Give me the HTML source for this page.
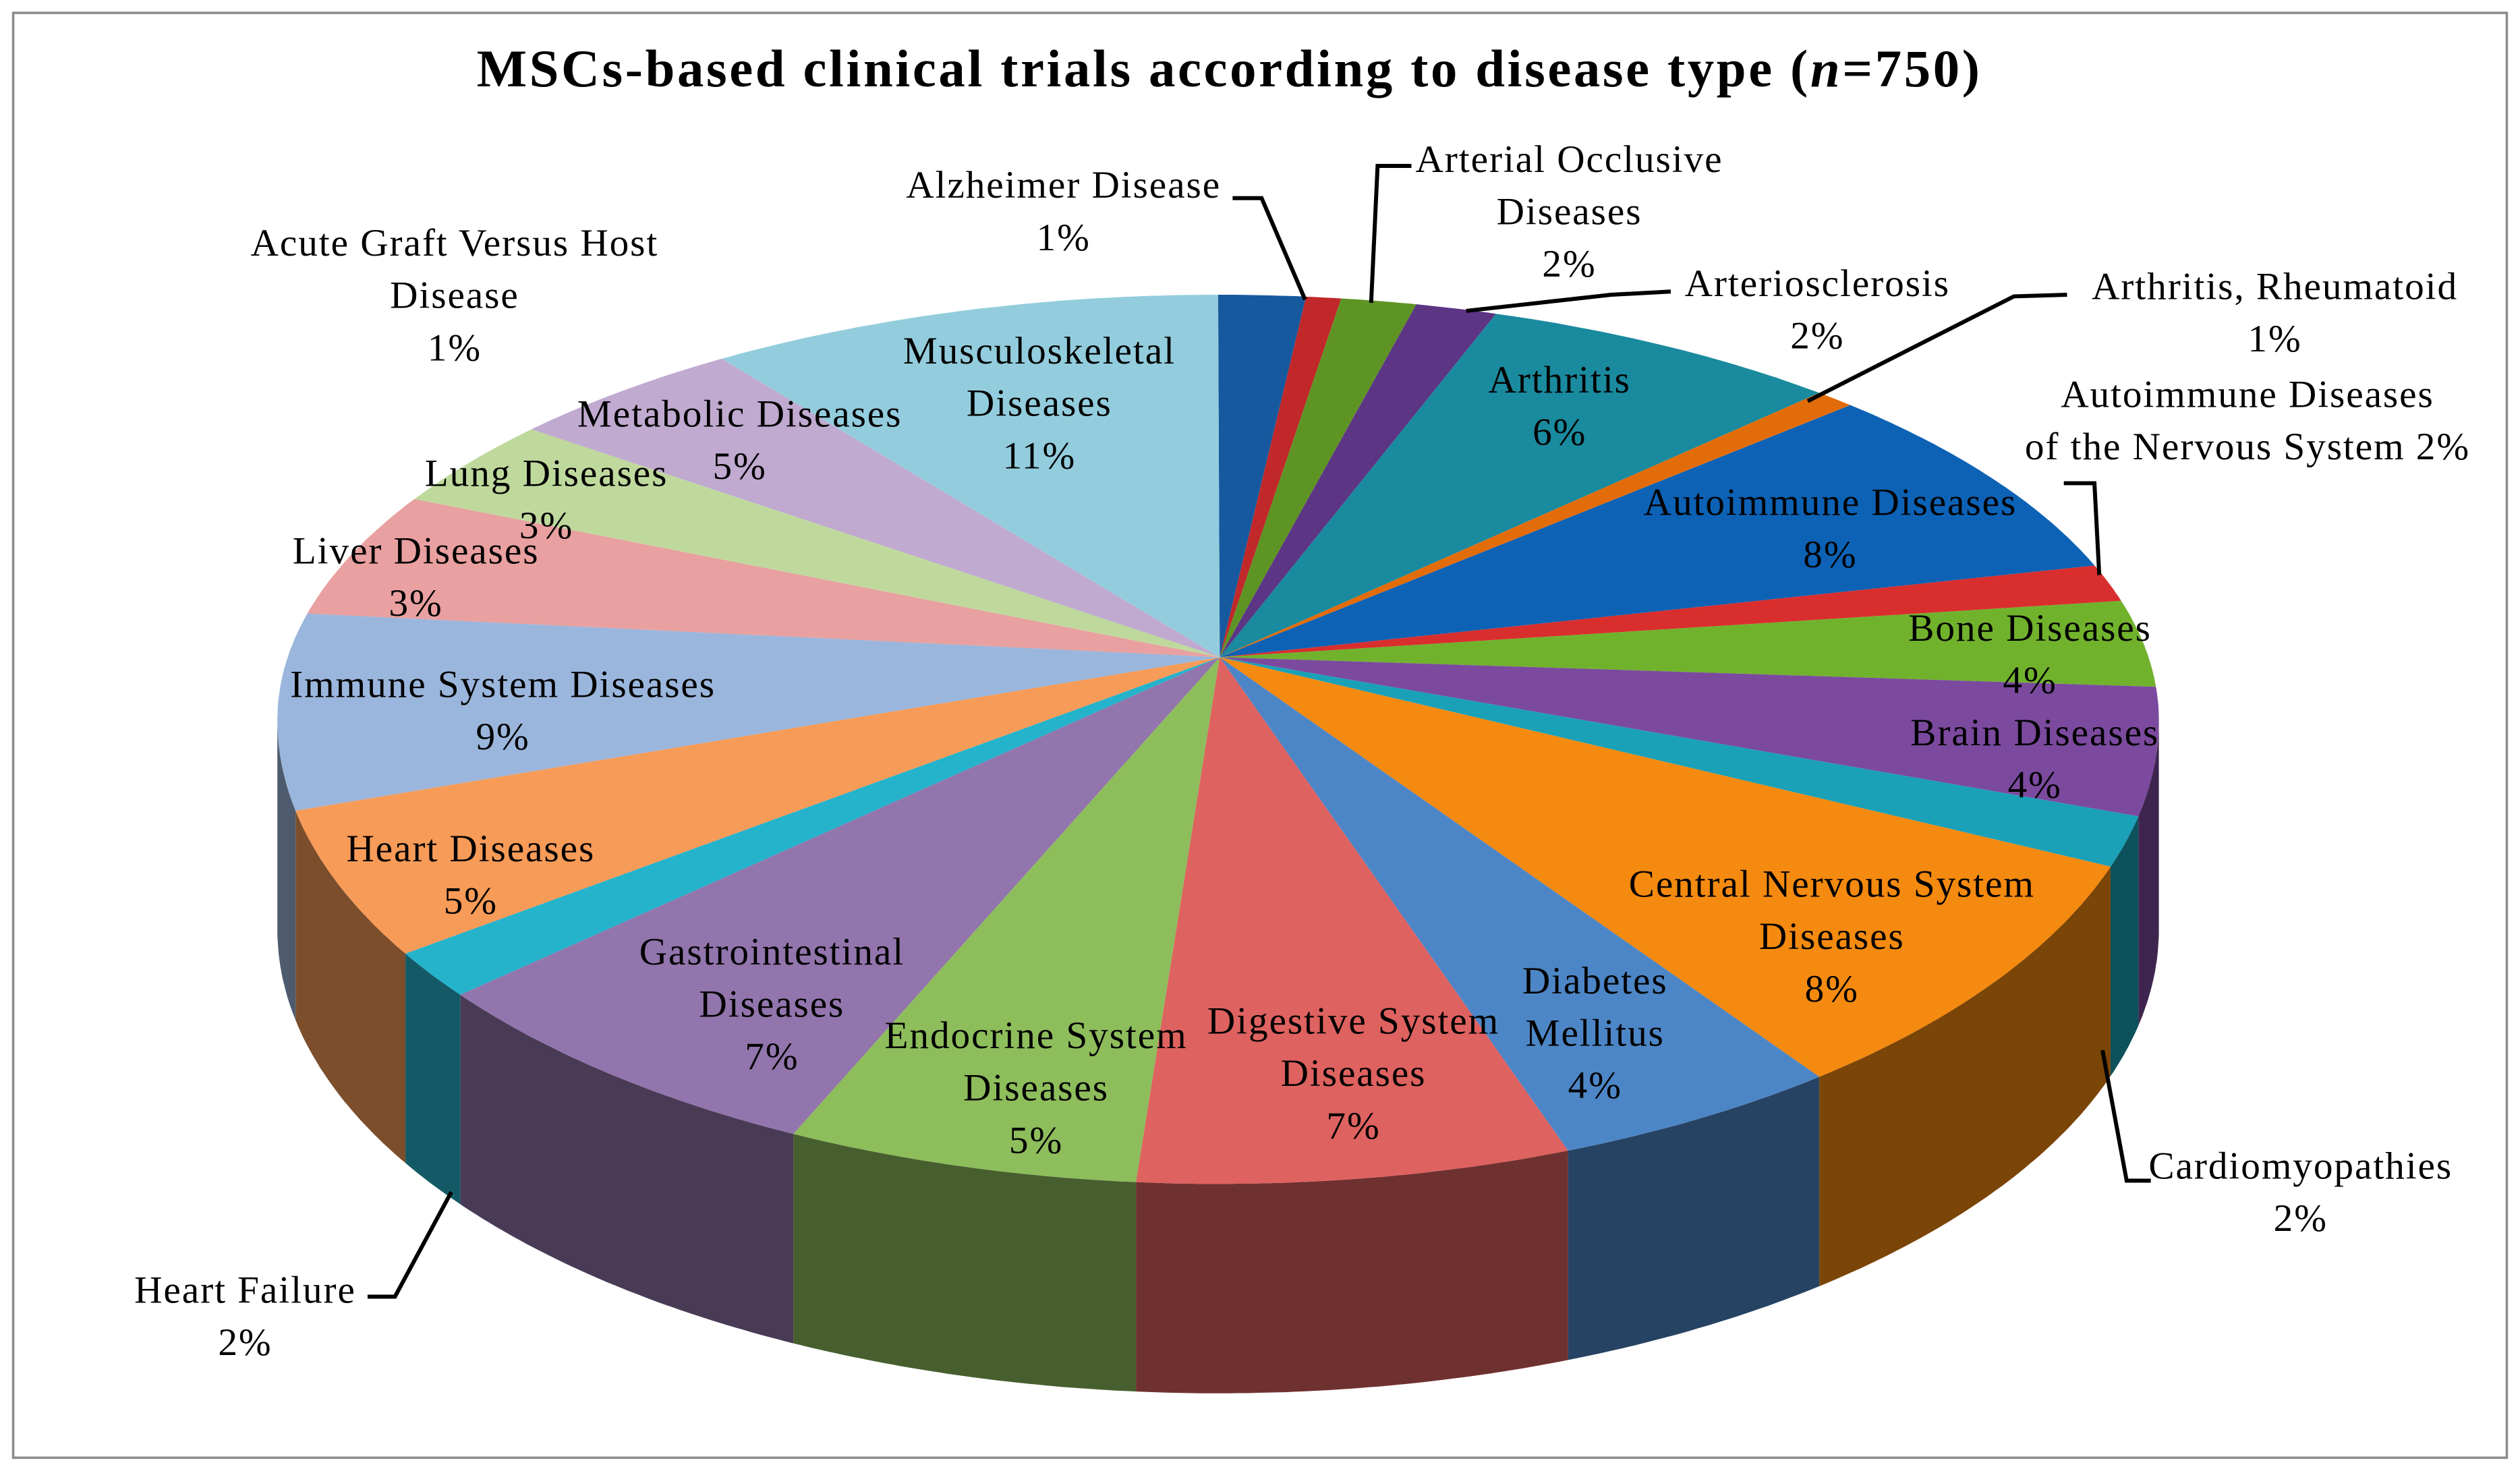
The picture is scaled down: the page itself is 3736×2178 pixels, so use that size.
<!DOCTYPE html>
<html>
<head>
<meta charset="utf-8">
<style>
  html, body { margin: 0; padding: 0; background: #fff; }
  svg { display: block; }
  text { font-family: "Liberation Serif", "DejaVu Serif", serif; }
</style>
</head>
<body>
<svg id="chart" width="3736" height="2178" viewBox="0 0 1564 912" xmlns="http://www.w3.org/2000/svg">
  <rect x="8" y="8" width="1548" height="897" fill="#fff" stroke="#8c8c8c" stroke-width="1.5"/>
  <text x="763" y="43" text-anchor="middle" dominant-baseline="central" font-size="33" font-weight="bold" letter-spacing="1.5" fill="#000">MSCs-based clinical trials according to disease type (<tspan font-style="italic">n</tspan>=750)</text>
  <g id="sides"></g>
  <g id="tops"></g>
  <g id="leaders" fill="none" stroke="#000" stroke-width="2.5">
    <polyline points="765,123 783,123 810,186"/>
    <polyline points="876,103 855,103 851,188"/>
    <polyline points="1037,181 1000,183 910,193"/>
    <polyline points="1283,183 1250,184 1122,249"/>
    <polyline points="1281,300 1300,300 1303,357"/>
    <polyline points="1335,733 1320,733 1305,652"/>
    <polyline points="228,805 245,805 280,740"/>
  </g>
  <g id="labels" font-size="24" letter-spacing="0.8" fill="#000" text-anchor="middle"></g>
</svg>
<script>
const categories = ["Acute Graft Versus Host Disease","Alzheimer Disease","Arterial Occlusive Diseases","Arteriosclerosis","Arthritis","Arthritis, Rheumatoid","Autoimmune Diseases","Autoimmune Diseases of the Nervous System","Bone Diseases","Brain Diseases","Cardiomyopathies","Central Nervous System Diseases","Diabetes Mellitus","Digestive System Diseases","Endocrine System Diseases","Gastrointestinal Diseases","Heart Failure","Heart Diseases","Immune System Diseases","Liver Diseases","Lung Diseases","Metabolic Diseases","Musculoskeletal Diseases"];
const values = [1.5,0.6,1.3,1.4,6.3,0.7,7.4,1.4,3.3,4.6,1.8,8.9,5,7.5,6.1,7.5,1.7,5.3,7.2,4.7,3.3,4.2,8.9];
const colors = ["#17599f","#c0282a","#5e9424","#5c3585","#1a8a9e","#e36c0a","#0d62b5","#d92e2e","#71b22d","#7b4a9e","#1aa1b8","#f58a10","#4d86c6","#de6260","#8ebd5c","#9275ac","#25b3cc","#f79b58","#9bb6dc","#e9a0a0","#bfd99d","#c0aad0","#93cddd"];
const labelLines = [
  ["Acute Graft Versus Host","Disease","1%"],["Alzheimer Disease","1%"],["Arterial Occlusive","Diseases","2%"],["Arteriosclerosis","2%"],["Arthritis","6%"],["Arthritis, Rheumatoid","1%"],["Autoimmune Diseases","8%"],["Autoimmune Diseases","of the Nervous System 2%"],["Bone Diseases","4%"],["Brain Diseases","4%"],["Cardiomyopathies","2%"],["Central Nervous System","Diseases","8%"],["Diabetes","Mellitus","4%"],["Digestive System","Diseases","7%"],["Endocrine System","Diseases","5%"],["Gastrointestinal","Diseases","7%"],["Heart Failure","2%"],["Heart Diseases","5%"],["Immune System Diseases","9%"],["Liver Diseases","3%"],["Lung Diseases","3%"],["Metabolic Diseases","5%"],["Musculoskeletal","Diseases","11%"]
];
const labelPos = [[282,151],[660,115],[974,99],[1128,176],[968,236],[1412,178],[1136,312],[1395,245],[1260,390],[1263,455],[1428,724],[1137,549],[990,609],[840,634],[643,643],[479,591],[152,801],[292,527],[312,425],[258,342],[339,294],[459,257],[645,218]];

const NS = "http://www.w3.org/2000/svg";
const cx = 756, cy = 447, rx = 584, ryTop = 264, ryBot = 288, ax = 757, ay = 408, depth = 130;
const total = values.reduce((a, b) => a + b, 0);
function pt(a) {
  const c = Math.cos(a);
  return [cx + rx * Math.sin(a), cy - (c > 0 ? ryTop : ryBot) * c];
}
function arcPts(a1, a2) {
  const n = Math.max(2, Math.ceil((a2 - a1) / 0.01));
  const out = [];
  for (let k = 0; k <= n; k++) out.push(pt(a1 + (a2 - a1) * k / n));
  return out;
}
function darken(hex, f) {
  const n = parseInt(hex.slice(1), 16);
  const r = Math.round(((n >> 16) & 255) * f), g = Math.round(((n >> 8) & 255) * f), b = Math.round((n & 255) * f);
  return "rgb(" + r + "," + g + "," + b + ")";
}
const sides = document.getElementById("sides");
const tops = document.getElementById("tops");
const labels = document.getElementById("labels");
let acc = 0;
values.forEach((v, i) => {
  const a1 = acc / total * 2 * Math.PI;
  acc += v;
  const a2 = acc / total * 2 * Math.PI;
  const s1 = Math.max(a1, Math.PI / 2), s2 = Math.min(a2, 3 * Math.PI / 2);
  if (s2 > s1) {
    const tp = arcPts(s1, s2);
    const bp = tp.slice().reverse().map(p => [p[0], p[1] + depth]);
    const side = document.createElementNS(NS, "polygon");
    side.setAttribute("points", tp.concat(bp).map(p => p[0].toFixed(1) + "," + p[1].toFixed(1)).join(" "));
    side.setAttribute("fill", darken(colors[i], 0.5));
    
    
    sides.appendChild(side);
  }
  const ap = arcPts(a1, a2);
  const top = document.createElementNS(NS, "polygon");
  top.setAttribute("points", [[ax, ay]].concat(ap).map(p => p[0].toFixed(1) + "," + p[1].toFixed(1)).join(" "));
  top.setAttribute("fill", colors[i]);
  
  
  tops.appendChild(top);

  const lines = labelLines[i], pos = labelPos[i];
  lines.forEach((ln, k) => {
    const t = document.createElementNS(NS, "text");
    t.setAttribute("x", pos[0]);
    t.setAttribute("y", pos[1] + k * 32.5);
    t.setAttribute("dominant-baseline", "central");
    t.textContent = ln;
    
    
    labels.appendChild(t);
  });
});
</script>
</body>
</html>
